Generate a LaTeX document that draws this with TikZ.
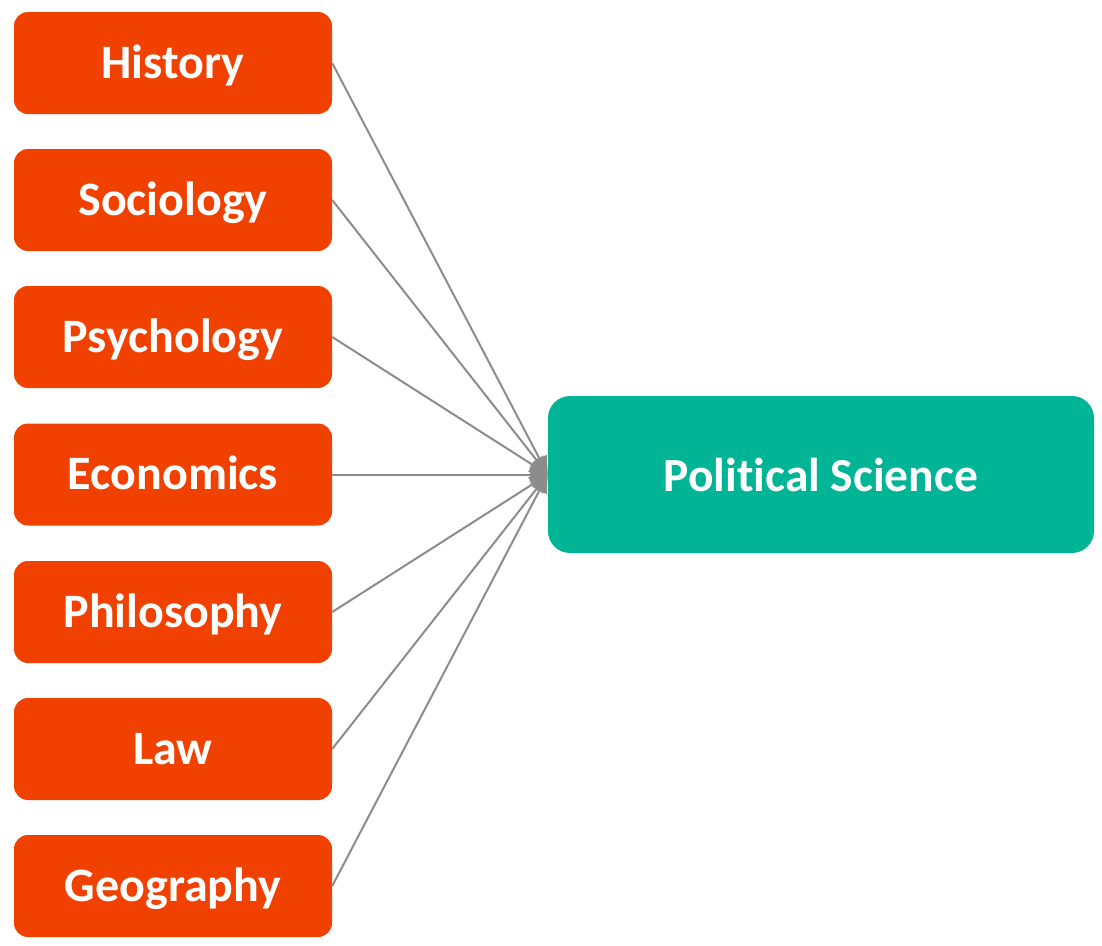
\documentclass[tikz,border=0pt]{standalone}
\usepackage{fontspec}
\setmainfont[Ligatures=NoCommon]{Carlito}
\usetikzlibrary{arrows.meta}
\definecolor{fieldorange}{RGB}{240,65,0}
\definecolor{polteal}{RGB}{0,181,150}
\definecolor{linkgray}{RGB}{140,140,140}
\tikzset{
  field/.style={fill=fieldorange, text=white, rounded corners=14pt,
    minimum width=318pt, minimum height=102pt, inner sep=0pt,
    text height=40pt, text depth=10pt,
    font=\fontsize{48}{54}\selectfont\bfseries},
  target/.style={fill=polteal, text=white, rounded corners=22pt,
    minimum width=546pt, minimum height=157pt, inner sep=0pt,
    text height=43pt, text depth=10pt,
    font=\fontsize{47.5}{54}\selectfont\bfseries},
  link/.style={draw=linkgray, line width=2pt, -{Triangle[length=18pt,width=16pt]}}
}
\begin{document}
\begin{tikzpicture}[x=1pt, y=-1pt, line join=round]
  \useasboundingbox (0,0) rectangle (1102,945);
  % target discipline
  \node[target] (pol) at (821,474.5) {Political Science};
  % contributing fields
  \foreach \nm/\yy in {History/63, Sociology/200, Psychology/337, Economics/474.5,
                       Philosophy/612, Law/749, Geography/886} {
    \node[field] (\nm) at (173,\yy) {\nm};
    \draw[link] (\nm.east) -- (pol.west);
  }
\end{tikzpicture}
\end{document}
